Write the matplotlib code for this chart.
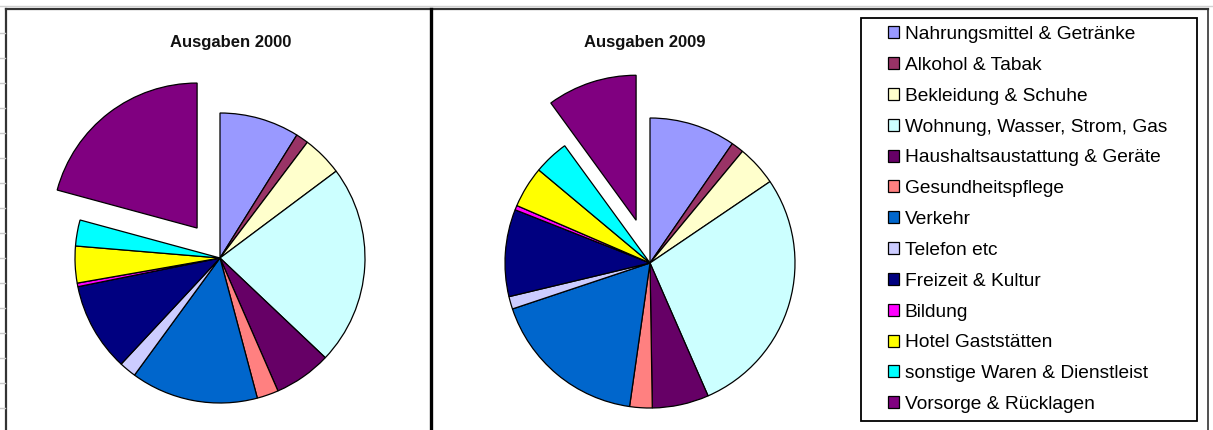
import matplotlib.pyplot as plt
from matplotlib.patches import Rectangle
from matplotlib.lines import Line2D

plt.rcParams['font.family'] = ['Liberation Sans', 'DejaVu Sans']

categories = ["Nahrungsmittel & Getränke", "Alkohol & Tabak", "Bekleidung & Schuhe",
              "Wohnung, Wasser, Strom, Gas", "Haushaltsaustattung & Geräte",
              "Gesundheitspflege", "Verkehr", "Telefon etc", "Freizeit & Kultur",
              "Bildung", "Hotel Gaststätten", "sonstige Waren & Dienstleist",
              "Vorsorge & Rücklagen"]

# shares in percent
ausgaben_2000 = [8.9, 1.4, 4.5, 22.3, 6.4, 2.4, 14.2, 1.9, 9.9, 0.4, 4.1, 2.9, 20.8]
ausgaben_2009 = [9.6, 1.4, 4.5, 27.9, 6.3, 2.5, 17.6, 1.4, 9.7, 0.5, 4.6, 3.9, 10.0]

colors = ["#9999FF", "#993366", "#FFFFCC", "#CCFFFF", "#660066", "#FF8080", "#0066CC",
          "#CCCCFF", "#000080", "#FF00FF", "#FFFF00", "#00FFFF", "#800080"]

W, H = 1213, 430
fig = plt.figure(figsize=(W / 100, H / 100), dpi=100)


def add_pie(values, cx, cy, r_px, explode_last, title, tx):
    half = 190
    ax = fig.add_axes([(cx - half) / W, (H - cy - half) / H, 2 * half / W, 2 * half / H])
    explode = [0] * (len(values) - 1) + [explode_last]
    wedges, _ = ax.pie(values, colors=colors, startangle=90, counterclock=False,
                       explode=explode, radius=1,
                       wedgeprops=dict(edgecolor="black", linewidth=0.9))
    lim = half / r_px
    ax.set_xlim(-lim, lim)
    ax.set_ylim(-lim, lim)
    ax.axis("off")
    for w in wedges:
        w.set_clip_on(False)
    fig.text(tx / W, 1 - 42 / H, title, ha="center", va="center",
             fontsize=12, fontweight="bold", color="#111111")
    return wedges


wedges = add_pie(ausgaben_2000, 220, 258, 145, 0.26, "Ausgaben 2000", 231)
add_pie(ausgaben_2009, 650, 263, 145, 0.31, "Ausgaben 2009", 645)

# worksheet frame and separator
fig.add_artist(Line2D([0, W], [H - 6, H - 6], transform=None, color="#d0d0d0", lw=1))
fig.add_artist(Line2D([6 / W, 6 / W], [0, 1 - 9 / H], color="#333333", lw=1.6))
fig.add_artist(Line2D([6 / W, 1208 / W], [1 - 9 / H, 1 - 9 / H], color="#333333", lw=1.6))
fig.add_artist(Line2D([1208 / W, 1208 / W], [0, 1 - 9 / H], color="#333333", lw=1.2))
fig.add_artist(Line2D([431 / W, 431 / W], [0, 1 - 9 / H], color="black", lw=2.4))
for y in range(33, 430, 25):
    fig.add_artist(Line2D([0, 5 / W], [1 - y / H, 1 - y / H], color="#c8c8c8", lw=1))

# legend
fig.add_artist(Rectangle((861 / W, 1 - 421 / H), 336 / W, 403 / H, transform=fig.transFigure,
                         facecolor="none", edgecolor="black", lw=1.3))
fig.legend(wedges, categories, loc="upper left", bbox_to_anchor=(888 / W, 1 - 26 / H),
           frameon=False, borderpad=0, borderaxespad=0, fontsize=13.8,
           handlelength=0.58, handleheight=0.58, handletextpad=0.3, labelspacing=0.722)

fig.savefig("out.png", dpi=100, facecolor="white")
